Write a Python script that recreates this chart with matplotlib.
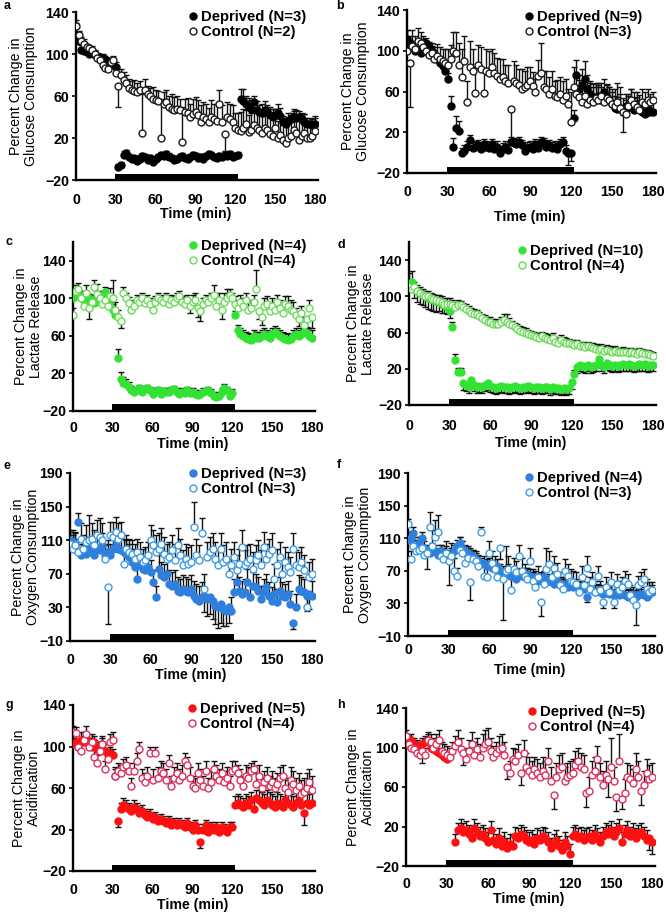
import matplotlib.pyplot as plt
import numpy as np
from matplotlib.lines import Line2D

plt.rcParams['font.family'] = ['Liberation Sans', 'DejaVu Sans']

nan = np.nan
# samples every 2 min, 0-180
time = np.arange(0, 182, 2)
bar_x = [29.5, 122]  # deprivation period (black bar)

# ---- a: glucose consumption ----
glc_a_dep = [118, 112, 104, 103, 102, 100, 101, 99, 98, 97,
             96, 95, 93, 92, 90, 88, -8, -6, 4, 6,
             2, 0, 1, -2, 0, 3, 2, -1, 1, -3,
             0, 2, 4, 3, 5, 2, 1, -1, 0, 2,
             3, 1, 0, 2, 4, 3, 1, 2, 0, 3,
             5, 4, 2, 1, 3, 2, 4, 3, 5, 2,
             3, 4, 57, 55, 52, 50, 48, 54, 47, 45,
             44, 47, 45, 42, 40, 42, 44, 41, 35, 33,
             36, 38, 40, 39, 40, 38, 35, 33, 33, 32,
             33]
glc_a_dep_err = [12, 6, 5, 4, 4, 4, 3, 4, 3, 3,
                 4, 3, 3, 4, 3, 4, 3, 3, 4, 3,
                 3, 3, 2, 3, 4, 3, 3, 3, 3, 4,
                 3, 3, 3, 3, 3, 4, 3, 3, 3, 3,
                 3, 3, 3, 3, 3, 3, 3, 3, 3, 3,
                 3, 3, 3, 3, 3, 3, 3, 3, 3, 3,
                 3, 3, 10, 12, 8, 8, 8, 6, 8, 6,
                 8, 8, 6, 8, 8, 6, 8, 8, 6, 6,
                 8, 6, 6, 8, 6, 6, 8, 6, 6, 6,
                 6]
glc_a_ctl = [127, 118, 112, 110, 107, 106, 104, 100, 96, 94,
             90, 87, 86, 92, 94, 82, 70, 80, 75, 72,
             68, 66, 65, 64, 66, 25, 66, 62, 60, 57,
             56, 55, 20, 52, 54, 50, 48, 47, 48, 47,
             16, 45, 44, 40, 43, 45, 42, 35, 40, 38,
             35, 40, 38, 36, 52, 35, 24, 40, 38, 35,
             30, 28, 27, 30, 33, 26, 28, 32, 30, 28,
             25, 30, 28, 24, 22, 30, 20, 23, 18, 15,
             20, 22, 28, 25, 18, 22, 25, 20, 20, 22,
             27]
glc_a_ctl_err = [5, 4, 4, 4, 3, 3, 4, 4, 3, 4,
                 4, 4, 4, 4, 4, 6, -20, 6, 8, 8,
                 8, 8, 10, 8, 8, 37, 10, 8, 8, 12,
                 10, 10, 37, 12, 12, 10, 14, 12, 12, 10,
                 34, 12, 14, 12, 14, 14, 14, 16, 14, 14,
                 14, 16, 14, 16, 14, 16, -16, 14, 14, 16,
                 14, 16, 18, 18, 14, 16, 16, 16, 18, 16,
                 16, 18, 16, 18, 20, 18, 16, 18, 20, 18,
                 20, 20, 20, 18, 20, 16, 18, 16, 14, 16,
                 14]

# ---- b: glucose consumption ----
glc_b_dep = [112, 108, 104, 100, 102, 98, 106, 108, 104, 100,
             96, 92, 88, 85, 80, 72, 46, 6, 24, 21,
             0, 2, 6, 12, 5, 6, 7, 4, 8, 6,
             5, 8, 4, 6, 0, 4, 6, 3, 10, 9,
             8, 10, 7, 2, 5, 6, 4, 8, 5, 10,
             9, 6, 7, 5, 6, 4, 8, 10, 2, 0,
             0, 34, 76, 62, 66, 72, 62, 58, 55, 52,
             56, 52, 60, 55, 52, 48, 44, 43, 44, 40,
             46, 44, 48, 42, 48, 45, 40, 38, 44, 40,
             40]
glc_b_dep_err = [8, 6, 6, 5, 5, 5, 6, 5, 5, 5,
                 5, 5, 5, 6, 6, 6, 10, 8, 12, 10,
                 5, 5, 5, 5, 5, 5, 5, 5, 5, 5,
                 5, 5, 5, 5, 5, 5, 5, 5, 5, 5,
                 5, 5, 5, 5, 5, 5, 5, 5, 5, 5,
                 5, 5, 5, 5, 5, 5, 5, 5, 5, -12,
                 -8, 8, 15, 14, 16, 18, 14, 12, 12, 12,
                 12, 12, 12, 12, 12, 12, 12, 12, 14, 14,
                 12, 12, 14, 12, 12, 12, 12, 12, 10, 10,
                 10]
glc_b_ctl = [100, 88, 105, 102, 110, 108, 104, 100, 96, 98,
             92, 95, 92, 90, 88, 86, 92, 100, 98, 86,
             74, 90, 50, 84, 80, 59, 86, 82, 59, 80,
             78, 84, 78, 75, 72, 74, 70, 68, 43, 70,
             68, 66, 62, 64, 66, 70, 65, 60, 75, 78,
             64, 62, 58, 62, 56, 55, 58, 52, 56, 48,
             30, 64, 58, 55, 50, 56, 48, 52, 50, 54,
             52, 56, 50, 54, 52, 48, 46, 50, 44, 40,
             38, 46, 52, 48, 45, 42, 50, 48, 52, 50,
             52]
glc_b_ctl_err = [20, -43, 15, 12, 12, 10, 10, 10, 10, 10,
                 12, 12, 12, 12, 14, 16, 14, 18, 20, 22,
                 28, 24, 20, 26, 22, 25, 20, 22, 20, 22,
                 22, 18, 20, 18, 20, 18, 16, 18, -30, 20,
                 18, 16, 20, 16, 18, 14, 14, 12, 16, 30,
                 16, 18, 16, 18, 14, 16, 16, 18, 16, 14,
                 30, 20, 16, 16, 18, 16, 18, 16, 14, 14,
                 14, 12, 12, 12, 12, 14, 16, 18, 20, -20,
                 14, 12, 10, 12, 10, 10, 12, 12, 10, 8,
                 8]

# ---- c: lactate release ----
lac_c_dep = [100, 102, 104, 100, 98, 96, 100, 98, 95, 100,
             96, 98, 107, 96, 92, 88, 82, 36, 14, 10,
             9, 6, 2, 0, 2, 4, 0, 3, 4, 2,
             -2, 0, 2, -2, 1, 0, 0, 2, 3, 0,
             -2, 0, -1, 2, -1, 0, -2, -3, -2, 0,
             1, 2, -1, -4, -5, -4, 0, 5, 2, -4,
             -1, 82, 66, 62, 60, 58, 57, 56, 60, 58,
             58, 60, 62, 60, 58, 62, 64, 62, 60, 58,
             57, 56, 57, 60, 62, 60, 62, 64, 63, 60,
             58]
lac_c_dep_err = [6, 5, 5, 5, 5, 5, 5, 5, 5, 5,
                 5, 5, 5, 5, 5, 6, 6, 10, 8, 6,
                 5, 5, 5, 4, 4, 4, 4, 4, 4, 4,
                 4, 4, 4, 4, 4, 4, 4, 4, 4, 4,
                 4, 4, 4, 4, 4, 4, 4, 4, 4, 4,
                 4, 4, 4, 4, 4, 4, 4, 4, 4, 4,
                 4, 5, 6, 6, 6, 6, 6, 6, 6, 6,
                 6, 6, 6, 6, 6, 6, 6, 6, 6, 6,
                 6, 6, 6, 6, 6, 6, 6, 6, 6, 8,
                 8]
lac_c_ctl = [82, 108, 110, 100, 92, 106, 90, 96, 112, 105,
             100, 94, 98, 92, 103, 100, 88, 80, 76, 106,
             100, 95, 88, 92, 98, 96, 100, 95, 98, 94,
             88, 96, 100, 98, 96, 100, 94, 98, 96, 100,
             102, 96, 94, 98, 92, 96, 98, 90, 86, 94,
             98, 96, 100, 104, 92, 98, 88, 96, 100, 104,
             100, 94, 90, 96, 92, 98, 88, 90, 96, 110,
             86, 80, 92, 94, 86, 92, 88, 96, 90, 84,
             94, 92, 88, 86, 82, 78, 84, 72, 78, 90,
             80]
lac_c_ctl_err = [8, 6, 6, 8, 8, 8, -12, 8, 8, 10,
                 8, 8, 8, 8, 8, 20, 8, 8, -8, 6,
                 6, 6, 6, 6, 6, 6, 6, 6, 6, 6,
                 6, 6, 6, 6, 6, 6, 6, 6, 6, 6,
                 6, 6, 6, 6, -8, 8, 8, -10, -10, 6,
                 6, 6, 6, 10, 8, 8, -10, 10, 10, 6,
                 6, 8, 8, 8, 8, 8, 8, 8, 8, 20,
                 -8, -8, 8, 8, 8, 8, 8, 8, 8, 8,
                 8, 10, 10, 10, 8, -8, 8, 8, -10, 8,
                 -12]

# ---- d: lactate release ----
lac_d_dep = [112, 116, 110, 106, 104, 102, 100, 98, 97, 96,
             95, 94, 92, 90, 88, 84, 66, 30, 16, 16,
             4, 2, 0, 8, 2, 0, 1, 0, 2, 4,
             1, 0, -1, 0, 1, 0, 0, -1, 0, 1,
             0, -1, 0, 0, 1, 0, -1, 0, 0, -1,
             0, 0, -2, 0, -1, -1, -2, -1, -2, -1,
             5, 14, 22, 24, 23, 22, 24, 22, 23, 24,
             31, 24, 22, 26, 24, 23, 24, 23, 24, 25,
             24, 25, 24, 23, 24, 25, 24, 25, 23, 24,
             24]
lac_d_dep_err = [14, 12, -12, -12, -12, -12, -12, -12, -12, -12,
                 -12, -10, -10, -8, -8, -8, 6, 6, 5, 5,
                 -7, -7, -7, -7, -7, -7, -7, -7, -7, -7,
                 -7, -7, -7, -7, -7, -7, -7, -7, -7, -7,
                 -7, -7, -7, -7, -7, -7, -7, -7, -7, -7,
                 -7, -7, -7, -7, -7, -7, -7, -7, -7, -7,
                 -7, 5, -7, -7, -7, -7, -7, -7, -7, -7,
                 -7, -7, -7, -7, -7, -7, -7, -7, -7, -7,
                 -7, -7, -7, -7, -7, -7, -7, -7, -7, -7,
                 -7]
lac_d_ctl = [110, 108, 110, 106, 104, 102, 100, 100, 98, 97,
             96, 95, 94, 92, 92, 92, 90, 88, 90, 90,
             88, 86, 84, 82, 81, 80, 78, 76, 74, 72,
             72, 70, 70, 69, 72, 74, 72, 70, 68, 66,
             64, 62, 61, 60, 58, 57, 56, 55, 54, 56,
             54, 53, 52, 54, 50, 49, 52, 50, 49, 48,
             47, 46, 47, 45, 45, 44, 45, 44, 43, 42,
             41, 42, 40, 41, 40, 39, 40, 38, 38, 39,
             38, 37, 38, 37, 36, 38, 37, 36, 36, 35,
             34]
lac_d_ctl_err = [8, 6, 6, 6, 6, 6, 6, 6, 6, 6,
                 6, 6, 6, 6, 6, 6, 6, 6, 6, 5,
                 5, 5, 5, 5, 5, 5, 5, 5, 5, 5,
                 5, 5, 5, 5, 5, 6, 8, 6, 5, 5,
                 5, 5, 5, 5, 5, 5, 5, 5, 5, 5,
                 5, 5, 5, 5, 5, 5, 5, 5, 5, 5,
                 5, 5, 5, 5, 5, 5, 5, 5, 5, 5,
                 5, 5, 5, 5, 5, 5, 5, 5, 5, 5,
                 5, 5, 5, 5, 5, 5, 5, 5, 5, 5,
                 5]

# ---- e: oxygen consumption ----
oxy_e_dep = [110, 108, 104, 132, 92, 96, 94, 100, 96, 92,
             100, 98, 104, 92, 96, 92, 100, 104, 100, 98,
             96, 94, 90, 84, 78, 64, 80, 76, 74, 78,
             72, 60, 42, 76, 68, 66, 70, 58, 56, 58,
             50, 48, 52, 50, 48, 52, 44, 40, 38, 42,
             44, 40, 42, 38, 32, 30, 34, 28, 26, 30,
             26, 48, 60, 50, 46, 48, 60, 42, 56, 54,
             50, 40, 48, 54, 44, 38, 46, 36, 50, 44,
             42, 46, 34, 12, 30, 52, 50, 48, 44, 46,
             44]
oxy_e_dep_err = [12, 14, 16, 10, 14, 14, 14, 14, 14, 14,
                 14, 14, 14, 14, 14, 14, 16, 16, 16, 16,
                 16, 16, 16, 16, 16, 14, 14, 14, 14, 14,
                 14, 14, 14, 16, 16, 16, 16, 16, 16, 16,
                 16, 16, 16, 16, 16, 16, 18, 18, 18, 18,
                 -20, -20, -20, -22, -22, -24, -22, -20, -18, -18,
                 16, 16, 16, 16, 16, 16, 16, 16, 16, 16,
                 16, 16, 16, 16, 16, 16, 16, 16, 16, 16,
                 16, 16, 16, -8, 16, 16, 16, 16, -18, -18,
                 18]
oxy_e_ctl = [106, 100, 104, 96, 112, 100, 108, 110, 112, 104,
             116, 114, 110, 88, 54, 116, 114, 120, 112, 116,
             82, 100, 96, 94, 88, 96, 90, 84, 86, 92,
             110, 104, 96, 100, 106, 94, 88, 90, 98, 86,
             104, 92, 80, 88, 82, 84, 126, 92, 86, 118,
             52, 90, 96, 100, 88, 80, 100, 84, 88, 70,
             80, 90, 74, 82, 102, 80, 84, 88, 76, 86,
             92, 80, 102, 88, 94, 98, 64, 80, 90, 70,
             84, 78, 72, 100, 80, 78, 84, 74, 30, 66,
             70]
oxy_e_ctl_err = [14, 16, 14, 16, 18, 16, 20, 30, 18, 18,
                 18, 22, 20, 16, -44, 16, 18, 18, 18, 16,
                 16, 16, 16, 16, 18, 16, 18, 16, 16, 16,
                 18, 18, 20, 18, 18, 20, 18, 18, 18, 20,
                 20, 20, 18, 18, 20, 20, 30, 20, 18, 18,
                 18, 18, 18, 18, 20, 18, 18, 20, 20, 18,
                 20, 18, 18, 18, 20, 18, 20, 18, 20, 18,
                 18, 18, 18, 18, 18, 20, 18, 20, 18, 18,
                 18, 18, 18, 18, 18, 18, 18, 18, 18, 18,
                 18]

# ---- f: oxygen consumption ----
oxy_f_dep = [108, 110, 116, 100, 104, 110, 98, 94, 92, 96,
             94, 90, 94, 90, 92, 88, 90, 94, 100, 104,
             98, 94, 92, 90, 88, 84, 82, 78, 80, 76,
             78, 74, 72, 76, 70, 68, 66, 70, 64, 62,
             60, 66, 64, 62, 66, 64, 60, 62, 58, 60,
             62, 56, 58, 56, 54, 58, 52, 54, 52, 50,
             52, 50, 52, 48, 50, 48, 38, 48, 46, 44,
             46, 44, 42, 44, 42, 44, 40, 42, 40, 42,
             40, 38, 40, 42, 38, 40, 42, 40, 38, 42,
             44]
oxy_f_dep_err = [10, 8, 8, 8, 8, 8, 8, 8, 8, 8,
                 8, 8, 8, 8, 8, 8, 8, 8, 8, 8,
                 8, 8, 8, 8, 8, 8, 8, 8, 8, 8,
                 8, 8, 8, 8, 8, 8, 8, 8, 8, 8,
                 8, 8, 8, 8, 8, 8, 8, 8, 8, 8,
                 8, 8, 8, 8, 8, 8, 8, 8, 8, 8,
                 8, 8, 8, 8, 8, 8, -6, 8, 8, 8,
                 8, 8, 8, 8, 8, 8, 8, 8, 8, 8,
                 8, 8, 8, 8, 8, 8, 8, 8, 8, 8,
                 8]
oxy_f_ctl = [128, 84, 100, 94, 96, 98, 90, 92, 124, 100,
             112, 118, 88, 84, 92, 82, 88, 70, 64, 96,
             92, 80, 86, 56, 84, 82, 76, 118, 64, 62,
             92, 80, 72, 62, 98, 60, 70, 72, 46, 72,
             68, 88, 70, 64, 60, 82, 58, 50, 62, 32,
             54, 72, 78, 62, 74, 66, 52, 48, 70, 64,
             58, 56, 54, 44, 62, 52, 74, 48, 56, 44,
             64, 46, 32, 50, 44, 56, 32, 54, 46, 50,
             58, 54, 40, 34, 28, 52, 56, 60, 48, 44,
             46]
oxy_f_ctl_err = [6, 10, 12, 14, 16, 12, 12, -20, 18, 20,
                 20, 20, 14, 12, 14, -30, 16, 16, 10, 16,
                 14, 12, 12, -22, 12, 12, 12, 6, 12, 14,
                 14, 14, 16, 14, -14, -50, 30, 16, 14, 14,
                 14, 14, 16, 14, 14, 16, 14, 14, 14, -18,
                 14, 26, 16, 14, 14, 14, 16, 14, 14, 14,
                 14, 14, 14, 14, 14, 12, 14, 14, 12, 14,
                 12, 12, -8, 12, 12, 12, -8, 12, 12, 12,
                 12, 12, 12, 12, -24, 12, 12, 12, 12, 12,
                 10]

# ---- g: acidification ----
acd_g_dep = [102, 104, 100, 106, 104, 108, 102, 100, 104, 98,
             96, 102, 96, 92, 94, 92, 72, 28, 40, 44,
             42, 40, 38, 42, 40, 36, 38, 34, 32, 34,
             30, 32, 28, 30, 28, 26, 28, 24, 26, 24,
             26, 24, 22, 26, 22, 20, 24, 20, 8, 20,
             24, 18, 22, 20, 22, 18, 22, 20, 18, 22,
             22, 44, 46, 44, 42, 46, 44, 48, 40, 50,
             48, 46, 44, 48, 46, 44, 42, 46, 44, 42,
             48, 46, 44, 42, 46, 48, 44, 36, 46, 44,
             46]
acd_g_dep_err = [6, 6, 6, 8, 6, 6, 6, 6, 6, 6,
                 6, 6, 6, 6, 6, 6, 6, -6, 6, 6,
                 6, 6, 6, 6, 6, 6, 6, 6, 6, 6,
                 5, 5, 5, 5, 5, 5, 5, 5, 5, 5,
                 5, 5, 5, 5, 5, 5, 5, 5, -6, 5,
                 5, 5, 5, 5, 5, 5, 5, 5, 5, 5,
                 5, 8, 8, 8, 8, 8, 8, 8, 10, 8,
                 10, 10, 10, 10, 10, 10, 10, 10, 10, 10,
                 10, 10, 10, 10, 10, 10, 10, -12, 10, 10,
                 10]
acd_g_ctl = [114, 113, 100, 96, 106, 112, 100, 104, 90, 84,
             96, 102, 78, 88, 104, 106, 72, 76, 74, 80,
             82, 76, 62, 76, 86, 98, 70, 66, 72, 94,
             68, 94, 70, 76, 74, 68, 84, 62, 70, 74,
             68, 72, 86, 82, 70, 62, 60, 74, 68, 62,
             76, 60, 66, 78, 72, 68, 74, 66, 70, 62,
             76, 78, 74, 68, 62, 72, 70, 76, 78, 64,
             72, 60, 66, 70, 62, 66, 60, 64, 70, 72,
             60, 56, 68, 64, 58, 62, 54, 56, 60, 66,
             58]
acd_g_ctl_err = [6, 6, 6, 6, 8, 8, 8, 8, 8, 8,
                 8, 8, 8, 8, 8, 8, 8, 8, 8, 8,
                 8, 8, 8, 8, 8, 6, 8, 8, 8, 6,
                 10, 6, 10, 10, 10, 10, 8, 10, 10, 10,
                 10, 10, 8, 8, 10, 10, 10, 10, 10, 10,
                 10, 10, 10, 8, 10, 10, 10, 10, 10, 10,
                 10, 8, 8, 10, 10, 10, 10, 8, 8, 10,
                 10, 10, 10, 10, 10, 10, 10, 10, 10, 10,
                 10, 12, 12, 12, 12, 12, 14, 14, 14, 12,
                 14]

# ---- h: acidification ----
acd_h_dep = [104, 106, 108, 104, 102, 100, 104, 106, 108, 100,
             98, 96, 94, 92, 90, 88, nan, nan, 4, 16,
             18, 14, 16, 12, 8, 18, 14, 10, 12, 8,
             4, 16, 6, 2, 8, 0, 4, -2, 2, 0,
             10, 8, 12, 10, 6, 4, 6, 2, 8, 6,
             10, 8, 4, -2, 2, 6, 0, -4, 4, 0,
             -8, 10, 12, 8, 10, 6, 8, 10, 6, 12,
             8, 4, 10, 14, 12, 16, 10, 14, 18, 4,
             12, 16, 10, 14, 8, 12, 14, 10, 6, 8,
             4]
acd_h_dep_err = [6, 6, 6, 6, 6, 6, 6, 6, 6, 6,
                 6, 6, 6, 6, 6, 6, 0, 0, 8, 8,
                 10, 10, 10, 10, 10, 10, 10, 10, 10, 10,
                 10, 10, 10, 10, 10, 10, 10, 10, 10, 10,
                 10, 10, 10, 10, 10, 10, 10, 10, 10, 10,
                 10, 10, 10, 10, 10, 10, 10, 10, 10, 10,
                 10, 10, 10, 10, 10, 10, 10, 10, 10, 10,
                 10, 10, 10, 10, 10, 10, 10, 10, 10, 10,
                 10, 10, 10, 10, 10, 10, 10, 10, 10, -12,
                 -12]
acd_h_ctl = [112, 104, 100, 98, 94, 92, 96, 92, 108, 106,
             100, 104, 108, 96, 94, 92, 90, 96, 102, 106,
             98, 94, 88, 96, 104, 92, 98, 90, 100, 104,
             106, 96, 90, 94, 98, 100, 92, 80, 74, 88,
             86, 92, 74, 94, 80, 76, 72, 78, 74, 70,
             76, 72, 86, 66, 52, 70, 78, 80, 66, 70,
             72, 74, 82, 86, 80, 78, 54, 56, 72, 76,
             88, 70, 62, 72, 68, 80, 66, 50, 86, 48,
             54, 70, 68, 64, 78, 70, 56, 62, 74, 68,
             70]
acd_h_ctl_err = [6, 6, 8, 8, 8, 10, -12, 8, 8, 8,
                 10, 10, 10, 10, 10, 10, 10, 10, 10, 12,
                 12, -12, 12, 12, 12, 14, 12, 14, 14, 14,
                 14, 14, 12, 12, 14, 14, 14, -12, 12, 12,
                 12, 12, -12, 14, 14, 14, 14, 12, 14, 14,
                 14, 14, 14, 14, -14, 14, 14, 14, 14, 14,
                 14, 14, 14, 14, 14, 14, -14, 14, 14, 14,
                 14, 14, 14, 14, -18, 30, 14, -14, 28, -10,
                 14, 14, 14, 14, 16, 16, -14, 14, 14, 14,
                 14]

ylabels = ['Percent Change in\nGlucose Consumption', 'Percent Change in\nLactate Release',
           'Percent Change in\nOxygen Consumption', 'Percent Change in\nAcidification']
n_dep = [3, 9, 4, 10, 3, 4, 5, 5]
n_ctl = [2, 3, 4, 4, 3, 3, 4, 4]

# (deprived fill, control edge) per row
row_colors = [('#000000', '#1a1a1a'), ('#33e333', '#6cdc5a'),
              ('#2f7fdc', '#3f9ce4'), ('#ff1010', '#de2f5a')]

panels = [
    ('a', glc_a_dep, glc_a_dep_err, glc_a_ctl, glc_a_ctl_err),
    ('b', glc_b_dep, glc_b_dep_err, glc_b_ctl, glc_b_ctl_err),
    ('c', lac_c_dep, lac_c_dep_err, lac_c_ctl, lac_c_ctl_err),
    ('d', lac_d_dep, lac_d_dep_err, lac_d_ctl, lac_d_ctl_err),
    ('e', oxy_e_dep, oxy_e_dep_err, oxy_e_ctl, oxy_e_ctl_err),
    ('f', oxy_f_dep, oxy_f_dep_err, oxy_f_ctl, oxy_f_ctl_err),
    ('g', acd_g_dep, acd_g_dep_err, acd_g_ctl, acd_g_ctl_err),
    ('h', acd_h_dep, acd_h_dep_err, acd_h_ctl, acd_h_ctl_err),
]

# pixel layout: x at 0, x at 180, y of ylim top, y of ylim bottom,
# tick label offset, xlabel offset, ylabel right edge, legend (right, top), letter (x, y)
layout = [
    (76, 315, 12, 180, 20, 34, 38, (314, 3), (4, 6)),
    (407, 653, 10, 173, 20, 44, 370, (650, 3), (336, 6)),
    (73, 312, 242, 411, 18, 33, 43, (314, 232), (5, 242)),
    (409, 653, 242, 405, 22, 38, 375, (651, 237), (337, 245)),
    (70, 312, 473, 641, 19, 34, 40, (314, 460), (4, 466)),
    (408, 652, 473, 636, 15, 34, 372, (650, 464), (337, 465)),
    (73, 312, 705, 871, 19, 34, 41, (313, 695), (5, 705)),
    (406, 652, 708, 866, 18, 33, 375, (653, 698), (337, 705)),
]
ylims = [(-20, 140), (-20, 160), (-10, 190), (-20, 140)]
yticks = [np.arange(-20, 141, 40), np.arange(-20, 141, 40),
          np.arange(-10, 191, 40), np.arange(-20, 141, 40)]

W, H = 666, 914
fig = plt.figure(figsize=(W / 100, H / 100), dpi=100)

MS = 5.0


def draw_series(ax, vals, err, face, edge, label):
    y = np.array(vals, float)
    end = y + np.array(err, float)
    ax.vlines(time, y, end, colors='#111111', lw=1.0, zorder=2)
    ax.plot(time, end, '_', color='#111111', ms=5, mew=1.0, zorder=2)
    ax.plot(time, y, 'o', ms=MS, mfc=face, mec=edge, mew=1.0, zorder=3, label=label)


for i, (letter, dep, dep_err, ctl, ctl_err) in enumerate(panels):
    x0, x180, ytop, ybot, tick_off, xlab_off, ylab_x, leg, let = layout[i]
    row = i // 2
    xmax = 182
    w_px = (x180 - x0) * xmax / 180
    h_px = ybot - ytop
    ax = fig.add_axes([x0 / W, 1 - ybot / H, w_px / W, h_px / H])
    dep_c, ctl_c = row_colors[row]

    draw_series(ax, dep, dep_err, dep_c, dep_c, f'Deprived (N={n_dep[i]})')
    draw_series(ax, ctl, ctl_err, 'white', ctl_c, f'Control (N={n_ctl[i]})')

    ymin, ymax = ylims[row]
    bar_h = (ymax - ymin) * 6.5 / h_px
    ax.fill_between(bar_x, ymin, ymin + bar_h, color='black', lw=0, zorder=4)

    ax.set_xlim(0, xmax)
    ax.set_ylim(ymin, ymax)
    ax.set_xticks(np.arange(0, 181, 30))
    ax.set_yticks(yticks[row])
    for s in ['top', 'right']:
        ax.spines[s].set_visible(False)
    for s in ['left', 'bottom']:
        ax.spines[s].set_linewidth(1.7)
    ax.tick_params(axis='x', length=0, pad=(tick_off - 7.5) * 0.72)
    ax.tick_params(axis='y', direction='out', length=3, width=1.2, pad=2)
    for t in ax.get_xticklabels() + ax.get_yticklabels():
        t.set_fontsize(10.2)
        t.set_fontweight('bold')

    ax.set_xlabel('Time (min)', fontsize=10.2, fontweight='bold')
    ax.xaxis.label.set_va('center')
    ax.xaxis.set_label_coords(90 / xmax, -xlab_off / h_px)
    ax.set_ylabel(ylabels[row], fontsize=10.2, linespacing=1.05)
    ax.yaxis.set_label_coords((ylab_x - x0) / w_px, 0.5)

    handles = [Line2D([], [], ls='none', marker='o', ms=MS, mfc=dep_c, mec=dep_c, mew=1.0),
               Line2D([], [], ls='none', marker='o', ms=MS, mfc='white', mec=ctl_c, mew=1.0)]
    ax.legend(handles, [f'Deprived (N={n_dep[i]})', f'Control (N={n_ctl[i]})'],
              loc='upper right', bbox_to_anchor=(leg[0] / W, 1 - leg[1] / H),
              bbox_transform=fig.transFigure, frameon=False, borderpad=0,
              handlelength=0.5, handletextpad=0.3, labelspacing=0.05,
              prop={'weight': 'bold', 'size': 10.7})

    fig.text(let[0] / W, 1 - let[1] / H, letter, fontsize=9, fontweight='bold',
             ha='left', va='center')

fig.savefig('out.png', dpi=100)
